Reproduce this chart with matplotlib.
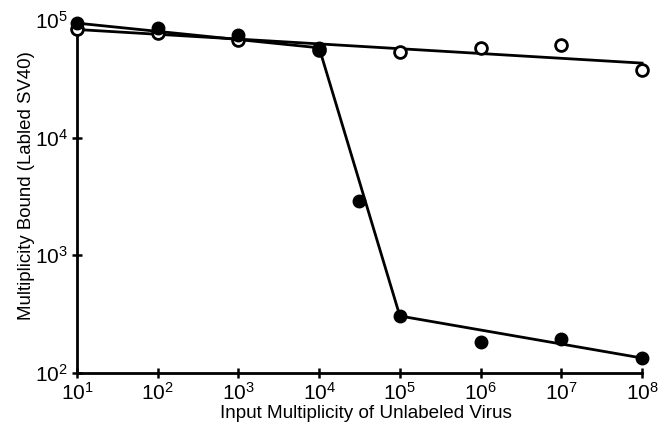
import matplotlib
matplotlib.use("Agg")
import matplotlib.pyplot as plt
from matplotlib.ticker import NullLocator, FuncFormatter
import math

plt.rcParams['font.family'] = ['Liberation Sans', 'DejaVu Sans']
plt.rcParams['mathtext.fontset'] = 'custom'
plt.rcParams['mathtext.rm'] = 'Liberation Sans'
plt.rcParams['mathtext.it'] = 'Liberation Sans:italic'
plt.rcParams['mathtext.bf'] = 'Liberation Sans:bold'

# Data
x_filled = [1e1, 1e2, 1e3, 1e4, 3.1e4, 1e5, 1e6, 1e7, 1e8]
y_filled = [9.4e4, 8.5e4, 7.5e4, 5.8e4, 2.9e3, 305, 184, 195, 134]

x_open = [1e1, 1e2, 1e3, 1e4, 1e5, 1e6, 1e7, 1e8]
y_open = [8.4e4, 7.7e4, 6.8e4, 5.6e4, 5.3e4, 5.8e4, 6.1e4, 3.76e4]

# Fitted lines
x_fit_filled = [1e1, 1e4, 1e5, 1e8]
y_fit_filled = [9.4e4, 5.8e4, 305, 134]
x_fit_open = [1e1, 1e8]
y_fit_open = [8.3e4, 4.3e4]

xticks = [1e1, 1e2, 1e3, 1e4, 1e5, 1e6, 1e7, 1e8]
yticks = [1e2, 1e3, 1e4, 1e5]

fig = plt.figure(figsize=(6.66, 4.25), dpi=100)
ax = fig.add_axes([0.1156, 0.1224, 0.8484, 0.8306])

ax.plot(x_fit_open, y_fit_open, color='black', lw=2, clip_on=False, zorder=2)
ax.plot(x_fit_filled, y_fit_filled, color='black', lw=2, clip_on=False, zorder=2)
ax.plot(x_open, y_open, 'o', ms=8.5, mfc='white', mec='black', mew=2, ls='none', clip_on=False, zorder=3)
ax.plot(x_filled, y_filled, 'o', ms=9, mfc='black', mec='black', ls='none', clip_on=False, zorder=4)

ax.set_xscale('log')
ax.set_yscale('log')
ax.set_xlim(1e1, 1e8)
ax.set_ylim(1e2, 1e5)
ax.set_xticks(xticks)
ax.set_yticks(yticks)
ax.xaxis.set_minor_locator(NullLocator())
ax.yaxis.set_minor_locator(NullLocator())

fmt = FuncFormatter(lambda v, p: r'$\mathregular{10^{%d}}$' % round(math.log10(v)))
ax.xaxis.set_major_formatter(fmt)
ax.yaxis.set_major_formatter(fmt)

for s in ['top', 'right']:
    ax.spines[s].set_visible(False)
for s in ['left', 'bottom']:
    ax.spines[s].set_linewidth(2)

ax.tick_params(direction='inout', length=7, width=1.8, labelsize=15, pad=3)

ax.set_xlabel('Input Multiplicity of Unlabeled Virus', fontsize=13.6)
ax.set_ylabel('Multiplicity Bound (Labled SV40)', fontsize=13.4)
ax.xaxis.set_label_coords(0.512, -0.09)
ax.yaxis.set_label_coords(-0.0743, 0.530)

fig.savefig('out.png', dpi=100)
